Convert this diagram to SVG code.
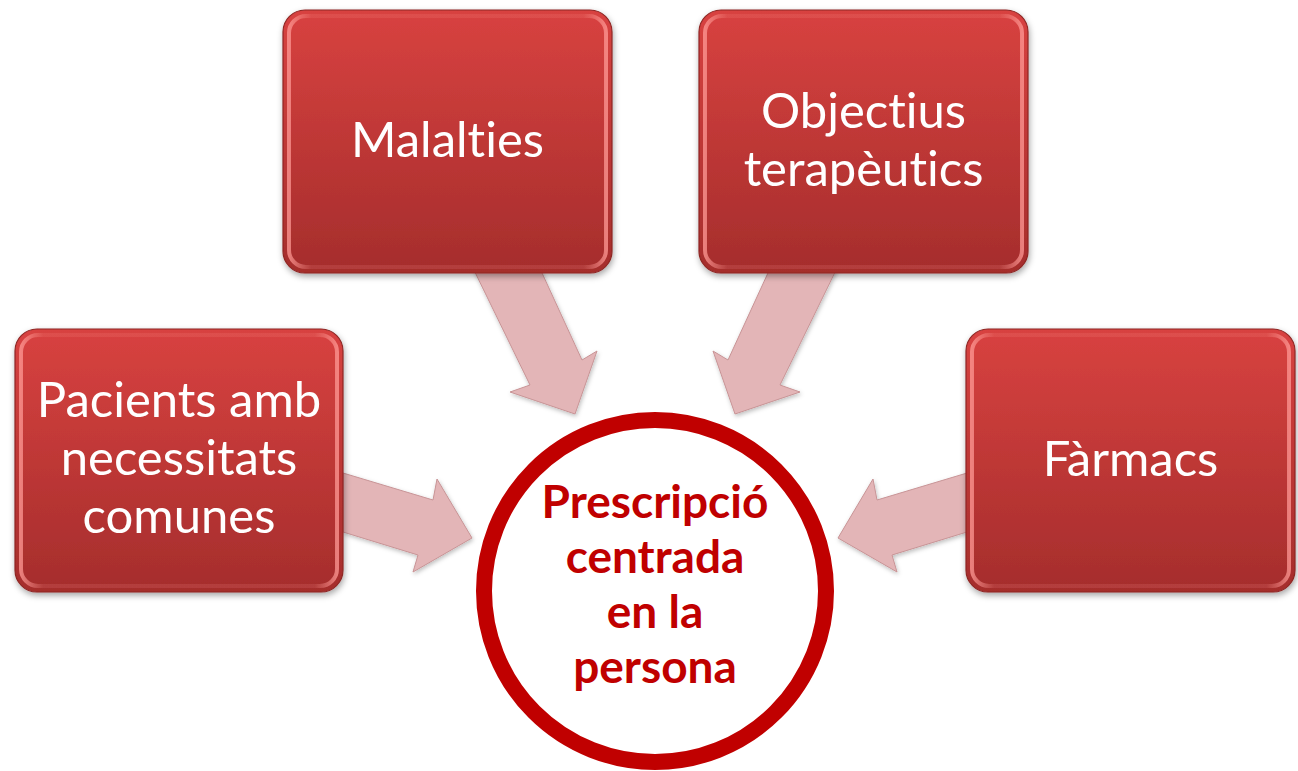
<svg xmlns="http://www.w3.org/2000/svg" width="1298" height="771" viewBox="0 0 1298 771">
<defs>
<linearGradient id="boxg" x1="0" y1="0" x2="0" y2="1">
<stop offset="0" stop-color="#D84240"/>
<stop offset="1" stop-color="#A52D2C"/>
</linearGradient>
<linearGradient id="bevg" x1="0" y1="0" x2="1" y2="0">
<stop offset="0" stop-color="#FF9A96" stop-opacity="0.75"/>
<stop offset="0.07" stop-color="#FF9A96" stop-opacity="0.15"/>
<stop offset="0.93" stop-color="#FF9A96" stop-opacity="0.15"/>
<stop offset="1" stop-color="#FF9A96" stop-opacity="0.75"/>
</linearGradient>
<filter id="sh" x="-10%" y="-10%" width="120%" height="125%">
<feDropShadow dx="1" dy="3" stdDeviation="3" flood-color="#000" flood-opacity="0.35"/>
</filter>
<filter id="ash" x="-10%" y="-10%" width="125%" height="125%">
<feDropShadow dx="1" dy="2" stdDeviation="2" flood-color="#000" flood-opacity="0.25"/>
</filter>
<style>
.box{fill:url(#boxg);stroke:#8E2624;stroke-width:1.2}
.bevel{fill:none;stroke:url(#bevg);stroke-width:4}
.lbl{font-family:Lato,"Liberation Sans",sans-serif;font-size:49px;fill:#FFFFFF;text-anchor:middle;font-variant-ligatures:none;font-feature-settings:"liga" 0}
.arrow{fill:#E3B5B7;stroke:#C89496;stroke-width:1}
.ctext{font-family:Lato,"Liberation Sans",sans-serif;font-size:46px;font-weight:bold;fill:#C00000;text-anchor:middle;font-variant-ligatures:none;font-feature-settings:"liga" 0}
</style>
</defs>
<g id="connectors" filter="url(#ash)">
<polygon class="arrow" points="470,262 537,262 582,360 597,351 575,414 510,392 530,385"/>
<polygon class="arrow" points="840,262 773,262 728,360 713,351 735,414 800,392 780,385"/>
<polygon class="arrow" points="343,473 433,500 437,479 472,538 413,572 418,555 343,532"/>
<polygon class="arrow" points="967,473 877,500 873,479 838,538 897,572 892,555 967,532"/>
</g>
<g id="node-malalties" filter="url(#sh)">
<rect class="box" x="283" y="10" width="329" height="263" rx="22"/>
<rect class="bevel" x="289" y="16" width="317" height="251" rx="17"/>
<text class="lbl" x="447.5" y="157">Malalties</text>
</g>
<g id="node-objectius" filter="url(#sh)">
<rect class="box" x="699" y="10" width="329" height="263" rx="22"/>
<rect class="bevel" x="705" y="16" width="317" height="251" rx="17"/>
<text class="lbl" x="863.5" y="128">Objectius</text>
<text class="lbl" x="863.5" y="186">terapèutics</text>
</g>
<g id="node-pacients" filter="url(#sh)">
<rect class="box" x="15" y="329" width="328" height="263" rx="22"/>
<rect class="bevel" x="21" y="335" width="316" height="251" rx="17"/>
<text class="lbl" x="179" y="417">Pacients amb</text>
<text class="lbl" x="179" y="475">necessitats</text>
<text class="lbl" x="179" y="533">comunes</text>
</g>
<g id="node-farmacs" filter="url(#sh)">
<rect class="box" x="966" y="329" width="329" height="263" rx="22"/>
<rect class="bevel" x="972" y="335" width="317" height="251" rx="17"/>
<text class="lbl" x="1130.5" y="476">Fàrmacs</text>
</g>
<g id="node-center">
<circle cx="655" cy="591" r="171" fill="#FFFFFF" stroke="#C00000" stroke-width="16"/>
<text class="ctext" x="655" y="518">Prescripció</text>
<text class="ctext" x="655" y="573">centrada</text>
<text class="ctext" x="655" y="628">en la</text>
<text class="ctext" x="655" y="683">persona</text>
</g>
</svg>
